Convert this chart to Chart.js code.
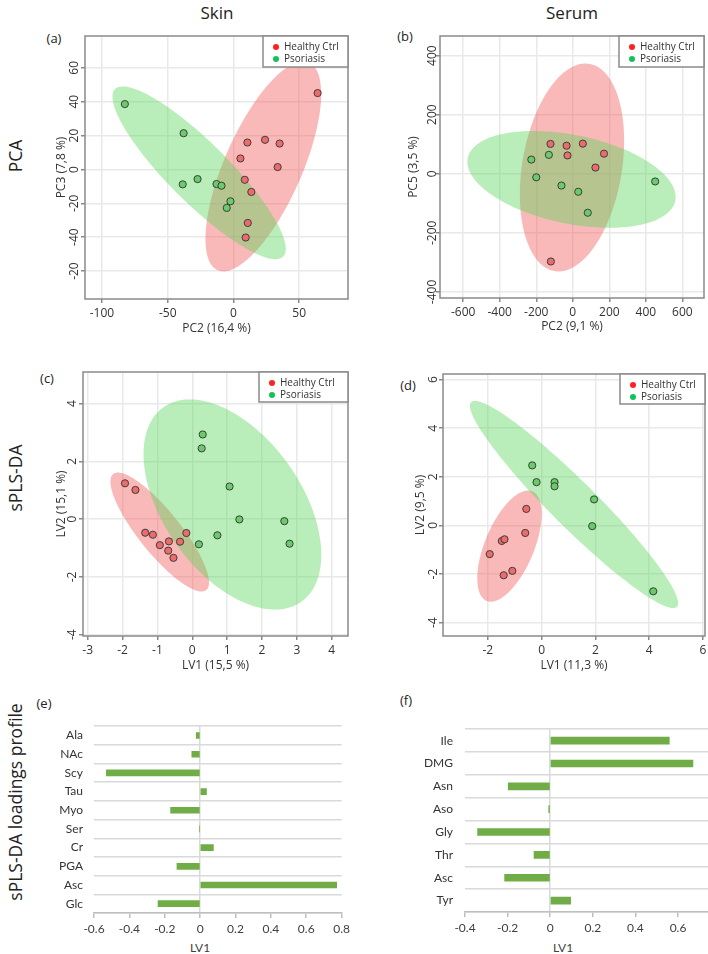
<!DOCTYPE html>
<html>
<head>
<meta charset="utf-8">
<script src="https://cdn.jsdelivr.net/npm/chart.js@4.4.1/dist/chart.umd.min.js"></script>
<style>
  html, body { margin: 0; padding: 0; }
  body { width: 708px; height: 954px; overflow: hidden; background: #fff; position: relative; font-family: "Open Sans", sans-serif; color: #222; }
  canvas { position: absolute; }
  .lbl { position: absolute; transform: translate(-50%, -50%); white-space: nowrap; }
  .rot { transform: translate(-50%, -50%) rotate(-90deg); }
</style>
</head>
<body>
<div class="lbl" style="left:217px;top:12px;font-size:17px">Skin</div>
<div class="lbl" style="left:572px;top:12px;font-size:17px">Serum</div>
<div class="lbl rot" style="left:15px;top:156px;font-size:17.5px">PCA</div>
<div class="lbl rot" style="left:15px;top:478px;font-size:17.5px">sPLS-DA</div>
<div class="lbl rot" style="left:15px;top:802px;font-size:17.5px">sPLS-DA loadings profile</div>
<div class="lbl" style="left:54px;top:38px;font-size:13px">(a)</div>
<div class="lbl" style="left:405px;top:36px;font-size:13px">(b)</div>
<div class="lbl" style="left:47px;top:378px;font-size:13px">(c)</div>
<div class="lbl" style="left:408px;top:385px;font-size:13px">(d)</div>
<div class="lbl" style="left:44px;top:703px;font-size:13px">(e)</div>
<div class="lbl" style="left:406px;top:700px;font-size:13px">(f)</div>
<div class="lbl" style="left:200px;top:947px;font-size:12px;font-family:Lato;color:#404040">LV1</div>
<div class="lbl" style="left:563px;top:947px;font-size:12px;font-family:Lato;color:#404040">LV1</div>

<canvas id="skinPca"></canvas>
<canvas id="serumPca"></canvas>
<canvas id="skinPls"></canvas>
<canvas id="serumPls"></canvas>
<canvas id="skinLoad"></canvas>
<canvas id="serumLoad"></canvas>

<script>
const groups = ["Healthy Ctrl", "Psoriasis"];

// (a) skin PCA, PC2 vs PC3
const skinPcaCtrlX = [64, 10.6, 24, 35.1, 5.3, 33.6, 8.6, 13.6, 10.9, 9.3];
const skinPcaCtrlY = [45.1, 15.9, 17.5, 15.3, 6.5, 1.4, -6.1, -13.3, -31.6, -40.2];
const skinPcaPsoX = [-82.6, -37.9, -38.6, -27.3, -12.9, -9.1, -2.3, -5.1];
const skinPcaPsoY = [38.6, 21.4, -8.8, -5.7, -8.6, -9.6, -18.8, -22.7];
const skinPcaXTicks = [-100, -50, 0, 50];
const skinPcaYTicks = [-60, -40, -20, 0, 20, 40, 60];
const skinPcaYLabels = ["-20", "-40", "-20", "0", "20", "40", "60"];
// ellipses: centre x, centre y, half width, half height, correlation
const skinPcaCtrlEll = [22.7, 1.8, 44, 62, 0.69];
const skinPcaPsoEll = [-26.1, -2, 65.9, 51, -0.88];

// (b) serum PCA, PC2 vs PC5
const serumPcaCtrlX = [-122, -34, 55, -29, 171, 124, -120];
const serumPcaCtrlY = [101, 95, 102, 62, 68, 21, -297];
const serumPcaPsoX = [-227, -131, -200, -62, 30, 82, 451];
const serumPcaPsoY = [48, 64, -12, -40, -61, -132, -26];
const serumPcaXTicks = [-600, -400, -200, 0, 200, 400, 600];
const serumPcaYTicks = [-400, -200, 0, 200, 400];
const serumPcaCtrlEll = [-4.4, 21.2, 285.5, 352, 0.258];
const serumPcaPsoEll = [-7.1, -19, 570, 164, -0.363];

// (c) skin sPLS-DA
const skinPlsCtrlX = [-1.93, -1.63, -1.35, -1.13, -0.93, -0.67, -0.69, -0.54, -0.35, -0.17];
const skinPlsCtrlY = [1.24, 1.01, -0.47, -0.54, -0.90, -0.77, -1.09, -1.34, -0.78, -0.48];
const skinPlsPsoX = [0.30, 0.27, 1.07, 1.35, 0.72, 0.19, 2.64, 2.79];
const skinPlsPsoY = [2.93, 2.45, 1.13, -0.01, -0.56, -0.87, -0.07, -0.85];
const skinPlsXTicks = [-3, -2, -1, 0, 1, 2, 3, 4];
const skinPlsYTicks = [-4, -2, 0, 2, 4];
const skinPlsCtrlEll = [-0.934, -0.448, 1.414, 2.06, -0.848];
const skinPlsPsoEll = [1.151, 0.507, 2.549, 3.638, -0.478];

// (d) serum sPLS-DA
const serumPlsCtrlX = [-1.93, -1.48, -1.38, -0.61, -0.57, -1.41, -1.09];
const serumPlsCtrlY = [-1.18, -0.64, -0.57, -0.31, 0.68, -2.05, -1.87];
const serumPlsPsoX = [-0.35, -0.19, 0.48, 0.48, 1.95, 1.88, 4.15];
const serumPlsPsoY = [2.47, 1.78, 1.78, 1.61, 1.07, -0.03, -2.71];
const serumPlsXTicks = [-2, 0, 2, 4, 6];
const serumPlsYTicks = [-4, -2, 0, 2, 4, 6];
const serumPlsCtrlEll = [-1.196, -0.852, 1.196, 2.287, 0.579];
const serumPlsPsoEll = [1.204, 0.861, 3.87, 4.262, -0.952];

// (e), (f) loadings on LV1
const skinMetabolites = ["Ala", "NAc", "Scy", "Tau", "Myo", "Ser", "Cr", "PGA", "Asc", "Glc"];
const skinLoadings = [-0.022, -0.047, -0.53, 0.036, -0.167, -0.004, 0.075, -0.131, 0.772, -0.238];
const skinLoadTicks = [-0.6, -0.4, -0.2, 0, 0.2, 0.4, 0.6, 0.8];
const serumMetabolites = ["Ile", "DMG", "Asn", "Aso", "Gly", "Thr", "Asc", "Tyr"];
const serumLoadings = [0.559, 0.67, -0.197, -0.007, -0.341, -0.076, -0.214, 0.096];
const serumLoadTicks = [-0.4, -0.2, 0, 0.2, 0.4, 0.6, 0.8];

const ctrlFill = "#ee6b6b", psoFill = "#69cb69";
const ctrlEllColor = "rgba(244,88,88,0.42)", psoEllColor = "rgba(88,212,88,0.42)";
const legendDots = ["#ff2020", "#12c458"];
const tickFont = { family: "Open Sans", size: 12 };

const pts = (xs, ys) => xs.map((x, i) => ({ x: x, y: ys[i] }));

function ellipsePlugin(list) {
  return {
    id: "ellipses",
    beforeDatasetsDraw(chart) {
      const { ctx, chartArea: a, scales: { x, y } } = chart;
      ctx.save();
      ctx.beginPath();
      ctx.rect(a.left, a.top, a.right - a.left, a.bottom - a.top);
      ctx.clip();
      list.forEach(([e, color]) => {
        const [cx, cy, rx, ry, rho] = e;
        const q = Math.sqrt(1 - rho * rho);
        ctx.beginPath();
        for (let k = 0; k <= 160; k++) {
          const t = (k / 160) * Math.PI * 2;
          const px = x.getPixelForValue(cx + rx * Math.cos(t));
          const py = y.getPixelForValue(cy + ry * (rho * Math.cos(t) + q * Math.sin(t)));
          if (k === 0) ctx.moveTo(px, py);
          else ctx.lineTo(px, py);
        }
        ctx.closePath();
        ctx.fillStyle = color;
        ctx.fill();
      });
      ctx.restore();
    }
  };
}

function rotYTicksPlugin(ticks, labels, off) {
  return {
    id: "rotYTicks",
    afterDraw(chart) {
      const s = chart.scales.y, ctx = chart.ctx;
      ctx.save();
      ctx.font = '12px "Open Sans"';
      ctx.fillStyle = "#333";
      ctx.textAlign = "center";
      ctx.textBaseline = "middle";
      ticks.forEach((v, i) => {
        ctx.save();
        ctx.translate(s.right - off, s.getPixelForValue(v));
        ctx.rotate(-Math.PI / 2);
        ctx.fillText(labels[i], 0, 0);
        ctx.restore();
      });
      ctx.restore();
    }
  };
}

function frameLegendPlugin(lw, lh) {
  return {
    id: "frameLegend",
    afterDraw(chart) {
      const { ctx, chartArea: a } = chart;
      ctx.save();
      ctx.strokeStyle = "#8a8a8a";
      ctx.lineWidth = 1.5;
      ctx.strokeRect(a.left, a.top, a.right - a.left, a.bottom - a.top);
      const x0 = a.right - lw, y0 = a.top;
      ctx.fillStyle = "#fff";
      ctx.fillRect(x0, y0, lw, lh);
      ctx.strokeRect(x0, y0, lw, lh);
      ctx.font = '10px "Open Sans"';
      ctx.textAlign = "left";
      ctx.textBaseline = "middle";
      chart.data.datasets.forEach((ds, i) => {
        const y = y0 + 11 + i * 12;
        ctx.fillStyle = legendDots[i];
        ctx.beginPath();
        ctx.arc(x0 + 13, y, 3, 0, Math.PI * 2);
        ctx.fill();
        ctx.fillStyle = "#333";
        ctx.fillText(ds.label, x0 + 21, y);
      });
      ctx.restore();
    }
  };
}

function scatterPanel(id, box, o) {
  const cv = document.getElementById(id);
  const left = box.l - o.W, top = box.t - 4;
  cv.style.left = left + "px";
  cv.style.top = top + "px";
  cv.width = box.r + 4 - left;
  cv.height = box.b + o.H - top;
  const titlePad = o.titleX - left - 7.2;
  const gridOpts = { color: "#e9e9e9", lineWidth: 1.5, tickLength: 4, tickColor: "#8a8a8a" };

  new Chart(cv, {
    type: "scatter",
    data: {
      datasets: [
        { label: groups[0], data: pts(o.ctrlX, o.ctrlY), backgroundColor: ctrlFill, borderColor: "#3d3d3d", borderWidth: 1, pointRadius: 3.6 },
        { label: groups[1], data: pts(o.psoX, o.psoY), backgroundColor: psoFill, borderColor: "#3d3d3d", borderWidth: 1, pointRadius: 3.6 }
      ]
    },
    options: {
      responsive: false,
      animation: false,
      layout: { padding: { top: 4, right: 4, left: 0, bottom: 0 } },
      plugins: { legend: { display: false }, tooltip: { enabled: false } },
      scales: {
        x: {
          type: "linear", min: o.xMin, max: o.xMax,
          afterBuildTicks: (s) => { s.ticks = o.xTicks.map((v) => ({ value: v })); },
          afterFit: (s) => { s.height = o.H; },
          ticks: { font: tickFont, color: "#333", padding: 3, autoSkip: false, maxRotation: 0 },
          grid: gridOpts,
          border: { display: false },
          title: { display: true, text: o.xTitle, font: tickFont, color: "#333", padding: 0 }
        },
        y: {
          type: "linear", min: o.yMin, max: o.yMax,
          afterBuildTicks: (s) => { s.ticks = o.yTicks.map((v) => ({ value: v })); },
          afterFit: (s) => { s.width = o.W; },
          ticks: { display: false },
          grid: gridOpts,
          border: { display: false },
          title: { display: true, text: o.yTitle, font: tickFont, color: "#333", padding: { top: titlePad, bottom: 0 } }
        }
      }
    },
    plugins: [
      ellipsePlugin([[o.ctrlEll, ctrlEllColor], [o.psoEll, psoEllColor]]),
      rotYTicksPlugin(o.yTicks, o.yLabels || o.yTicks.map(String), o.tickOff),
      frameLegendPlugin(o.legW, o.legH)
    ]
  });
}

function barPanel(id, box, labels, values, ticks, barT, labelPad) {
  const cv = document.getElementById(id);
  const W = 60, H = 26;
  const left = box.l - W, top = box.t - 4;
  cv.style.left = left + "px";
  cv.style.top = top + "px";
  cv.width = box.r + 4 - left;
  cv.height = box.b + H - top;
  const font = { family: "Lato", size: 12 };

  new Chart(cv, {
    type: "bar",
    data: {
      labels: labels,
      datasets: [{ data: values, backgroundColor: "#70ad47", barThickness: barT }]
    },
    options: {
      indexAxis: "y",
      responsive: false,
      animation: false,
      layout: { padding: { top: 4, right: 4, left: 0, bottom: 0 } },
      plugins: { legend: { display: false }, tooltip: { enabled: false } },
      scales: {
        x: {
          min: ticks[0], max: ticks[ticks.length - 1],
          afterBuildTicks: (s) => { s.ticks = ticks.map((v) => ({ value: v })); },
          afterFit: (s) => { s.height = H; },
          ticks: { callback: (v) => (v === 0 ? "0" : v.toFixed(1)), font: font, color: "#404040", padding: 4, autoSkip: false, maxRotation: 0 },
          grid: {
            color: (c) => (c.tick && c.tick.value === 0 ? "#d9d9d9" : "rgba(0,0,0,0)"),
            lineWidth: 1.5, tickLength: 5, tickColor: "#bfbfbf"
          },
          border: { color: "#bfbfbf", width: 1.5 }
        },
        y: {
          afterFit: (s) => { s.width = W; },
          ticks: { font: font, color: "#333", padding: labelPad },
          grid: { color: "#d9d9d9", lineWidth: 1.5, drawTicks: false },
          border: { display: false }
        }
      }
    }
  });
}

scatterPanel("skinPca", { l: 85, t: 35, r: 349, b: 299 }, {
  xMin: -112.9, xMax: 87.1, yMin: -76.5, yMax: 78.8,
  xTicks: skinPcaXTicks, yTicks: skinPcaYTicks, yLabels: skinPcaYLabels,
  xTitle: "PC2 (16,4 %)", yTitle: "PC3 (7,8 %)",
  ctrlX: skinPcaCtrlX, ctrlY: skinPcaCtrlY, psoX: skinPcaPsoX, psoY: skinPcaPsoY,
  ctrlEll: skinPcaCtrlEll, psoEll: skinPcaPsoEll,
  W: 35, H: 37, titleX: 62, tickOff: 10, legW: 85, legH: 31
});

scatterPanel("serumPca", { l: 440, t: 35, r: 705, b: 298 }, {
  xMin: -727, xMax: 718.4, yMin: -420.6, yMax: 466.4,
  xTicks: serumPcaXTicks, yTicks: serumPcaYTicks,
  xTitle: "PC2 (9,1 %)", yTitle: "PC5 (3,5 %)",
  ctrlX: serumPcaCtrlX, ctrlY: serumPcaCtrlY, psoX: serumPcaPsoX, psoY: serumPcaPsoY,
  ctrlEll: serumPcaCtrlEll, psoEll: serumPcaPsoEll,
  W: 36, H: 36, titleX: 414, tickOff: 7, legW: 85, legH: 31
});

scatterPanel("skinPls", { l: 83, t: 371, r: 349, b: 636 }, {
  xMin: -3.134, xMax: 4.466, yMin: -4.045, yMax: 5.093,
  xTicks: skinPlsXTicks, yTicks: skinPlsYTicks,
  xTitle: "LV1 (15,5 %)", yTitle: "LV2 (15,1 %)",
  ctrlX: skinPlsCtrlX, ctrlY: skinPlsCtrlY, psoX: skinPlsPsoX, psoY: skinPlsPsoY,
  ctrlEll: skinPlsCtrlEll, psoEll: skinPlsPsoEll,
  W: 32, H: 37, titleX: 62, tickOff: 10, legW: 89, legH: 30
});

scatterPanel("serumPls", { l: 443, t: 373, r: 706, b: 636 }, {
  xMin: -3.667, xMax: 6.074, yMin: -4.549, yMax: 6.23,
  xTicks: serumPlsXTicks, yTicks: serumPlsYTicks,
  xTitle: "LV1 (11,3 %)", yTitle: "LV2 (9,5 %)",
  ctrlX: serumPlsCtrlX, ctrlY: serumPlsCtrlY, psoX: serumPlsPsoX, psoY: serumPlsPsoY,
  ctrlEll: serumPlsCtrlEll, psoEll: serumPlsPsoEll,
  W: 34, H: 37, titleX: 421, tickOff: 9, legW: 85, legH: 30
});

barPanel("skinLoad", { l: 94, t: 712, r: 350, b: 913 }, skinMetabolites, skinLoadings, skinLoadTicks, 6, 11);
barPanel("serumLoad", { l: 465, t: 714, r: 729, b: 912 }, serumMetabolites, serumLoadings, serumLoadTicks, 7, 12);
</script>
</body>
</html>
